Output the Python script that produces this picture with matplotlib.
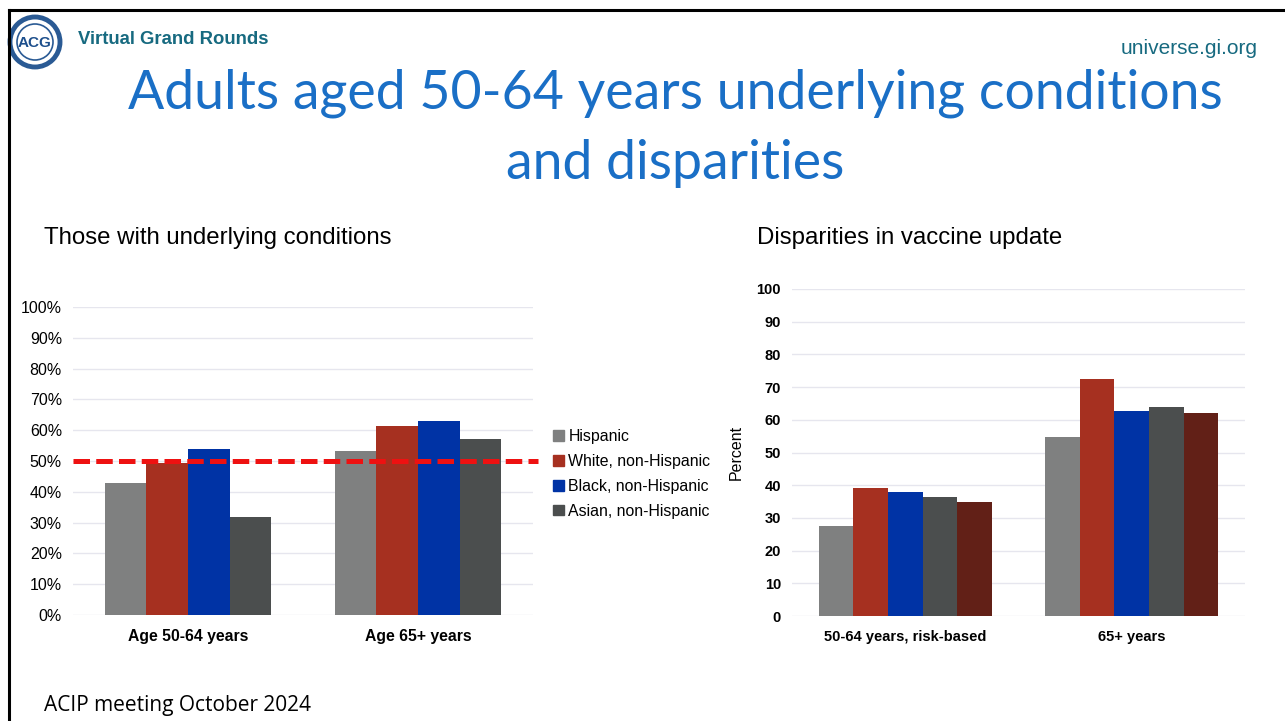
import matplotlib
matplotlib.use('Agg')
import matplotlib.pyplot as plt
from matplotlib.lines import Line2D
from matplotlib.patches import Ellipse
import numpy as np

W, H = 1285, 721

# left chart: share with underlying conditions
left_groups = ['Age 50-64 years', 'Age 65+ years']
left_series = ['Hispanic', 'White, non-Hispanic', 'Black, non-Hispanic', 'Asian, non-Hispanic']
left_values = [
    [43.0, 53.2],
    [49.5, 61.4],
    [53.8, 63.1],
    [31.9, 57.0],
]
left_colors = ['#7f8080', '#a63020', '#0033a5', '#4b4e4e']
reference_line = 50

# right chart: vaccine uptake
right_groups = ['50-64 years, risk-based', '65+ years']
right_values = [
    [27.6, 54.8],
    [39.0, 72.5],
    [38.0, 62.8],
    [36.3, 63.8],
    [34.9, 62.2],
]
right_colors = ['#7f8080', '#a63020', '#0033a5', '#4b4e4e', '#622017']

left_ticks = np.arange(0, 101, 10)
right_ticks = np.arange(0, 101, 10)


def px_axes(fig, x0, y0, x1, y1):
    # pixel box (top-left origin) -> figure fraction
    return fig.add_axes([x0 / W, 1 - y1 / H, (x1 - x0) / W, (y1 - y0) / H])


def grouped_bars(ax, values, colors, group_width):
    n = len(values)
    bw = group_width / n
    x = np.arange(len(values[0]))
    for i, (vals, c) in enumerate(zip(values, colors)):
        ax.bar(x - group_width / 2 + bw * (i + 0.5), vals, width=bw, color=c, zorder=3)
    return x


def style_axes(ax, groups, ticks, tick_labels, bold_ticks, cat_size):
    ax.set_xlim(-0.5, len(groups) - 0.5)
    ax.set_ylim(0, 100)
    ax.set_yticks(ticks)
    ax.set_yticklabels(tick_labels, fontsize=11.5 if not bold_ticks else 10.5,
                       fontweight='bold' if bold_ticks else 'normal',
                       family='Liberation Sans')
    ax.set_xticks(range(len(groups)))
    ax.set_xticklabels(groups, fontsize=cat_size, fontweight='bold', family='Liberation Sans')
    ax.tick_params(length=0, pad=8)
    ax.tick_params(axis='x', pad=10)
    for s in ax.spines.values():
        s.set_visible(False)
    ax.grid(axis='y', color='#e6e6ee', linewidth=1, zorder=0)
    ax.set_facecolor('none')


fig = plt.figure(figsize=(W / 100, H / 100), dpi=100)

# slide frame
fig.add_artist(Line2D([9 / W, 1], [1 - 10 / H, 1 - 10 / H], color='black', lw=2.2))
fig.add_artist(Line2D([9 / W, 9 / W], [0, 1 - 10 / H], color='black', lw=2.2))

# logo
fig.add_artist(Ellipse((35 / W, 1 - 42 / H), 50 / W, 50 / H, transform=fig.transFigure,
                       facecolor='white', edgecolor='#2a5a94', lw=3.5))
fig.add_artist(Ellipse((35 / W, 1 - 42 / H), 36 / W, 36 / H, transform=fig.transFigure,
                       facecolor='white', edgecolor='#2a5a94', lw=1.2))
fig.text(35 / W, 1 - 43 / H, 'ACG', ha='center', va='center', fontsize=11,
         color='#1d4f8c', family='Liberation Sans', fontweight='bold')
fig.text(78 / W, 1 - 39 / H, 'Virtual Grand Rounds', ha='left', va='center',
         fontsize=13.3, fontweight='bold', color='#176a80', family='Liberation Sans')
fig.text(1258 / W, 1 - 49 / H, 'universe.gi.org', ha='right', va='center',
         fontsize=15, color='#176a80', family='Liberation Sans')

# title
fig.text(675 / W, 1 - 93 / H, 'Adults aged 50-64 years underlying conditions',
         ha='center', va='center', fontsize=38.6, color='#1a6fc6', family='Lato')
fig.text(675 / W, 1 - 164 / H, 'and disparities',
         ha='center', va='center', fontsize=38.6, color='#1a6fc6', family='Lato')

fig.text(44 / W, 1 - 238 / H, 'Those with underlying conditions', ha='left', va='center',
         fontsize=17.3, color='black', family='Liberation Sans')
fig.text(757 / W, 1 - 238 / H, 'Disparities in vaccine update', ha='left', va='center',
         fontsize=17.3, color='black', family='Liberation Sans')
fig.text(44 / W, 1 - 706 / H, 'ACIP meeting October 2024', ha='left', va='center',
         fontsize=15, color='black', family='Open Sans')

# left chart
ax1 = px_axes(fig, 73, 307, 533, 615)
grouped_bars(ax1, left_values, left_colors, 0.725)
style_axes(ax1, left_groups, left_ticks, [f'{t}%' for t in left_ticks], False, 11.3)
ax1.plot([-0.5, 1.52], [reference_line, reference_line], color='#ee1111', lw=3.6,
         dashes=(3.3, 1.25), zorder=4, clip_on=False, solid_capstyle='butt')
handles = [plt.Rectangle((0, 0), 1, 1, color=c) for c in left_colors]
fig.legend(handles, left_series, loc='upper left', bbox_to_anchor=(539 / W, 1 - 415 / H),
           frameon=False, handlelength=0.65, handleheight=0.65, handletextpad=0.3,
           labelspacing=0.62, prop={'family': 'Liberation Sans', 'size': 11.4})

# right chart
ax2 = px_axes(fig, 792, 289, 1245, 616)
grouped_bars(ax2, right_values, right_colors, 0.764)
style_axes(ax2, right_groups, right_ticks, [str(t) for t in right_ticks], True, 10.5)
ax2.set_ylabel('Percent', fontsize=11.5, family='Liberation Sans', labelpad=9)

fig.savefig('out.png', dpi=100)
